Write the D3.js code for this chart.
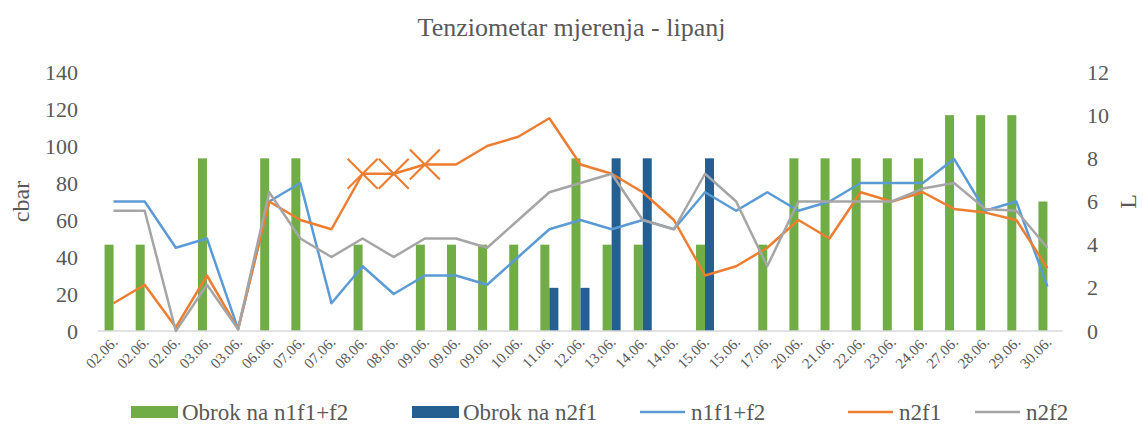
<!DOCTYPE html>
<html>
<head>
<meta charset="utf-8">
<script src="https://cdn.jsdelivr.net/npm/d3@7"></script>
<style>
  body { margin: 0; background: #fff; }
</style>
</head>
<body>
<div id="chart"></div>
<script>
// category labels (dates)
const categories = ["02.06.", "02.06.", "02.06.", "03.06.", "03.06.", "06.06.", "07.06.", "07.06.",
  "08.06.", "08.06.", "09.06.", "09.06.", "09.06.", "10.06.", "11.06.", "12.06.", "13.06.", "14.06.",
  "14.06.", "15.06.", "15.06.", "17.06.", "20.06.", "21.06.", "22.06.", "23.06.", "24.06.", "27.06.",
  "28.06.", "29.06.", "30.06."];

// irrigation amounts (L, right axis)
const obrokN1 = [4, 4, null, 8, null, 8, 8, null, 4, null, 4, 4, 4, 4, 4, 8, 4, 4, null, 4, null,
  4, 8, 8, 8, 8, 8, 10, 10, 10, 6];
const obrokN2 = [null, null, null, null, null, null, null, null, null, null, null, null, null, null,
  2, 2, 8, 8, null, 8, null, null, null, null, null, null, null, null, null, null, null];

// tensiometer readings (cbar, left axis)
const n1f1f2 = [70, 70, 45, 50, 1, 70, 80, 15, 35, 20, 30, 30, 25, 40, 55, 60, 55, 60, 55, 75, 65,
  75, 65, 70, 80, 80, 80, 93, 65, 70, 24];
const n2f1 = [15, 25, 2, 30, 1, 70, 60, 55, 85, 85, 90, 90, 100, 105, 115, 90, 85, 75, 60, 30, 35,
  45, 60, 50, 75, 70, 75, 66, 64, 60, 34];
const n2f2 = [65, 65, 0, 25, 1, 75, 50, 40, 50, 40, 50, 50, 45, 60, 75, 80, 85, 60, 55, 85, 70,
  35, 70, 70, 70, 70, 77, 80, 66, 65, 45];
// points of n2f1 drawn with an X marker
const n2f1Marked = [8, 9, 10];

const leftTicks = [0, 20, 40, 60, 80, 100, 120, 140];
const rightTicks = [0, 2, 4, 6, 8, 10, 12];

const width = 1143, height = 430;
const margin = { left: 98, right: 80, top: 72, bottom: 99 };
const innerWidth = width - margin.left - margin.right;
const innerHeight = height - margin.top - margin.bottom;
const serif = "'Liberation Serif', 'Times New Roman', 'DejaVu Serif', serif";
const textColor = "#595959";

const svg = d3.select("#chart").append("svg")
  .attr("width", width)
  .attr("height", height)
  .attr("font-family", serif);

// title
svg.append("text")
  .attr("x", width / 2)
  .attr("y", 36)
  .attr("text-anchor", "middle")
  .attr("font-family", serif)
  .attr("font-size", 26)
  .attr("fill", textColor)
  .text("Tenziometar mjerenja - lipanj");

const chart = svg.append("g")
  .attr("transform", `translate(${margin.left}, ${margin.top})`);

// scales
const x = d3.scaleBand().domain(d3.range(categories.length)).range([0, innerWidth]);
const xSub = d3.scaleBand().domain(["n1", "n2"]).range([0, x.bandwidth()]).paddingOuter(0.73);
const yLeft = d3.scaleLinear().domain([0, 140]).range([innerHeight, 0]);
const yRight = d3.scaleLinear().domain([0, 12]).range([innerHeight, 0]);
const cx = i => x(i) + x.bandwidth() / 2;

const colors = { n1: "#70AD47", n2: "#255E91", l1: "#5B9BD5", l2: "#ED7D31", l3: "#A5A5A5" };

// bars
const barSeries = [{ key: "n1", values: obrokN1 }, { key: "n2", values: obrokN2 }];
barSeries.forEach(s => {
  chart.append("g").selectAll("rect")
    .data(s.values.map((v, i) => ({ v, i })).filter(d => d.v != null))
    .join("rect")
    .attr("x", d => x(d.i) + xSub(s.key))
    .attr("y", d => yRight(d.v))
    .attr("width", xSub.bandwidth())
    .attr("height", d => innerHeight - yRight(d.v))
    .attr("fill", colors[s.key]);
});

// x axis line
chart.append("line")
  .attr("x1", 0).attr("x2", innerWidth)
  .attr("y1", innerHeight).attr("y2", innerHeight)
  .attr("stroke", "#D9D9D9")
  .attr("stroke-width", 1.5);

// lines
const line = d3.line().x((d, i) => cx(i)).y(d => yLeft(d));
const lineSeries = [
  { values: n1f1f2, color: colors.l1 },
  { values: n2f1, color: colors.l2 },
  { values: n2f2, color: colors.l3 }
];
lineSeries.forEach(s => {
  chart.append("path")
    .datum(s.values)
    .attr("d", line)
    .attr("fill", "none")
    .attr("stroke", s.color)
    .attr("stroke-width", 2.5)
    .attr("stroke-linejoin", "round");
});

// X markers on n2f1
const m = 15;
chart.append("g").selectAll("path")
  .data(n2f1Marked)
  .join("path")
  .attr("d", i => {
    const px = cx(i), py = yLeft(n2f1[i]);
    return `M${px - m},${py - m}L${px + m},${py + m}M${px - m},${py + m}L${px + m},${py - m}`;
  })
  .attr("stroke", colors.l2)
  .attr("stroke-width", 2.2)
  .attr("fill", "none");

// left axis
const leftAxis = chart.append("g")
  .call(d3.axisLeft(yLeft).tickValues(leftTicks).tickSize(0).tickPadding(20))
  .attr("font-family", serif)
  .attr("font-size", 22);
leftAxis.select(".domain").remove();
leftAxis.selectAll("text").attr("fill", textColor);

// right axis
const rightAxis = chart.append("g")
  .attr("transform", `translate(${innerWidth}, 0)`)
  .call(d3.axisRight(yRight).tickValues(rightTicks).tickSize(0).tickPadding(24))
  .attr("font-family", serif)
  .attr("font-size", 22);
rightAxis.select(".domain").remove();
rightAxis.selectAll("text").attr("fill", textColor);

// x labels
chart.append("g").selectAll("text")
  .data(categories)
  .join("text")
  .attr("transform", (d, i) => `translate(${cx(i) + 5}, ${innerHeight + 12}) rotate(-45)`)
  .attr("text-anchor", "end")
  .attr("font-family", serif)
  .attr("font-size", 15)
  .attr("fill", textColor)
  .text(d => d);

// axis titles
svg.append("text")
  .attr("transform", `translate(29, ${margin.top + innerHeight / 2}) rotate(-90)`)
  .attr("text-anchor", "middle")
  .attr("font-family", serif)
  .attr("font-size", 24)
  .attr("fill", textColor)
  .text("cbar");

svg.append("text")
  .attr("transform", `translate(1136, ${margin.top + innerHeight / 2}) rotate(-90)`)
  .attr("text-anchor", "middle")
  .attr("font-family", serif)
  .attr("font-size", 24)
  .attr("fill", textColor)
  .text("L");

// legend
const legendItems = [
  { label: "Obrok na n1f1+f2", color: colors.n1, type: "rect", x: 131 },
  { label: "Obrok na n2f1", color: colors.n2, type: "rect", x: 412 },
  { label: "n1f1+f2", color: colors.l1, type: "line", x: 640 },
  { label: "n2f1", color: colors.l2, type: "line", x: 848 },
  { label: "n2f2", color: colors.l3, type: "line", x: 975 }
];
const legend = svg.append("g").attr("transform", "translate(0, 412)");
legendItems.forEach(d => {
  if (d.type === "rect") {
    legend.append("rect").attr("x", d.x).attr("y", -6).attr("width", 47).attr("height", 12).attr("fill", d.color);
  } else {
    legend.append("line").attr("x1", d.x).attr("x2", d.x + 45).attr("y1", 0).attr("y2", 0)
      .attr("stroke", d.color).attr("stroke-width", 2.5);
  }
  legend.append("text")
    .attr("x", d.x + 51)
    .attr("y", 8)
    .attr("font-family", serif)
    .attr("font-size", 23)
    .attr("fill", textColor)
    .text(d.label);
});
</script>
</body>
</html>
